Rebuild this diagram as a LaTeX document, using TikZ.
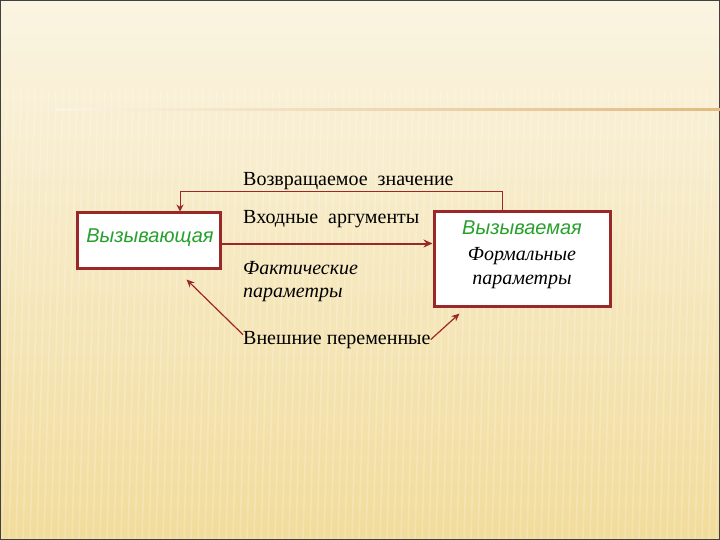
\documentclass[tikz,border=0pt]{standalone}
\usepackage{fontspec}
\setmainfont{Liberation Serif}
\newfontfamily\arialfont{Liberation Sans}
\usetikzlibrary{positioning,arrows.meta}
\definecolor{boxred}{RGB}{155,40,40}
\definecolor{callgreen}{RGB}{40,160,45}
\definecolor{bgtop}{RGB}{250,244,226}
\definecolor{bgbottom}{RGB}{242,220,155}
\definecolor{ruletan}{RGB}{226,186,130}

\begin{document}
\begin{tikzpicture}[x=1pt,y=-1pt,
    box/.style={draw=boxred,line width=3pt,fill=white,inner sep=0pt},
    lbl/.style={inner sep=0pt,font=\fontsize{20}{24}\selectfont},
    ilbl/.style={inner sep=0pt,font=\fontsize{20}{24}\selectfont\itshape},
    glbl/.style={inner sep=0pt,text=callgreen,font=\arialfont\fontsize{20}{24}\selectfont\itshape},
    mainarrow/.style={draw=boxred,line width=2pt,-{Stealth[length=9pt,width=8pt]}},
    thinarrow/.style={draw=boxred,line width=1.2pt,-{Stealth[length=8pt,width=7pt]}},
    retline/.style={draw=boxred,line width=0.8pt,-{Stealth[length=7pt,width=7pt]}}]
            \useasboundingbox (0,0) rectangle (720,540);
            % Fondo
            \shade[top color=bgtop,bottom color=bgbottom] (0,0) rectangle (720,540);
            \begin{scope}
                \clip (0,0) rectangle (720,540);
                \foreach \sx in {0,7,...,740}
                    \draw[white,opacity=0.22,line width=1.5pt] (\sx,90) -- (\sx-12,540);
                \draw[gray!50!black,line width=2pt] (0,0) rectangle (720,540);
            \end{scope}
            \shade[left color=bgtop,right color=ruletan] (55,109) rectangle (720,111);
            % Cajas
            \node[box,minimum width=143pt,minimum height=55pt] (caller) at (148.5,240.5) {};
            \node[box,minimum width=176pt,minimum height=94pt] (callee) at (522,259) {};
            \node[glbl,anchor=base] (callername) at (150,242) {Вызывающая};
            \node[glbl,anchor=base] (calleename) at (522,235) {Вызываемая};
            \node[ilbl,anchor=base] (formal1) at (522,260) {Формальные};
            \node[ilbl,anchor=base] (formal2) at (522,284) {параметры};
            % Etiquetas
            \node[lbl,anchor=base west] (retval) at (243,186) {Возвращаемое\ \ значение};
            \node[lbl,anchor=base west] (inargs) at (243,224) {Входные\ \ аргументы};
            \node[ilbl,anchor=base west] (actual1) at (243,274) {Фактические};
            \node[ilbl,anchor=base west] (actual2) at (243,297) {параметры};
            \node[lbl,anchor=base west] (extvars) at (243,344) {Внешние переменные};
            % Flechas
            \draw[retline] ([xshift=-20pt]callee.north) -- ++(0,-19) -| ([xshift=31.5pt]caller.north);
            \draw[mainarrow] ([yshift=-3pt]caller.east) -- ([yshift=-3pt]caller.east -| callee.west);
            \draw[thinarrow] ([yshift=-4pt]extvars.north west) -- ([shift={(38,10)}]caller.south);
            \draw[thinarrow] (extvars.east) -- ([shift={(27,6)}]callee.south west);
        \end{tikzpicture}
\end{document}
